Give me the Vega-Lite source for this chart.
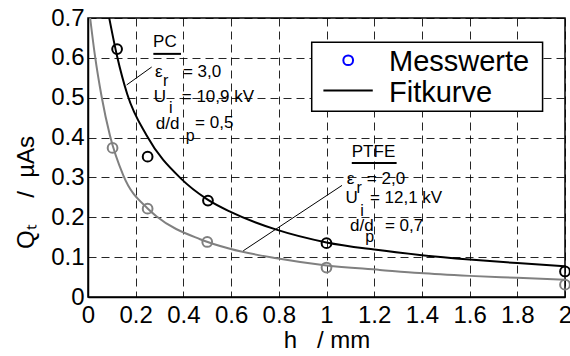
{
  "$schema": "https://vega.github.io/schema/vega-lite/v6.json",
  "width": 477,
  "height": 279,
  "autosize": {"type": "none"},
  "padding": {"left": 88, "top": 18, "right": 5, "bottom": 59},
  "background": "white",
  "config": {
    "font": "Liberation Sans",
    "view": {"stroke": "#000", "strokeWidth": 1.5},
    "axis": {
      "domain": true, "domainColor": "#000", "domainWidth": 1.5,
      "ticks": false, "grid": true, "gridColor": "#000", "gridDash": [8, 5], "gridWidth": 1, "gridOpacity": 0.85,
      "labelOverlap": false, "labelBound": false,
      "labelFont": "Liberation Sans", "labelFontSize": 24, "labelColor": "#000",
      "titleFont": "Liberation Sans", "titleFontSize": 24, "titleFontWeight": "normal", "titleColor": "#000"
    }
  },
  "datasets": {
    "fits": [
      {"series": "PC", "h": 0.089, "q": 0.7},
      {"series": "PC", "h": 0.122, "q": 0.604},
      {"series": "PC", "h": 0.165, "q": 0.508},
      {"series": "PC", "h": 0.246, "q": 0.405},
      {"series": "PC", "h": 0.39, "q": 0.297},
      {"series": "PC", "h": 0.5, "q": 0.245},
      {"series": "PC", "h": 0.6, "q": 0.213},
      {"series": "PC", "h": 0.79, "q": 0.169},
      {"series": "PC", "h": 1.0, "q": 0.137},
      {"series": "PC", "h": 1.2, "q": 0.119},
      {"series": "PC", "h": 1.4, "q": 0.105},
      {"series": "PC", "h": 1.6, "q": 0.094},
      {"series": "PC", "h": 1.8, "q": 0.085},
      {"series": "PC", "h": 2.0, "q": 0.077},
      {"series": "PTFE", "h": 0.009, "q": 0.7},
      {"series": "PTFE", "h": 0.029, "q": 0.606},
      {"series": "PTFE", "h": 0.057, "q": 0.503},
      {"series": "PTFE", "h": 0.092, "q": 0.405},
      {"series": "PTFE", "h": 0.148, "q": 0.305},
      {"series": "PTFE", "h": 0.25, "q": 0.222},
      {"series": "PTFE", "h": 0.288, "q": 0.202},
      {"series": "PTFE", "h": 0.47, "q": 0.145},
      {"series": "PTFE", "h": 0.595, "q": 0.121},
      {"series": "PTFE", "h": 0.791, "q": 0.097},
      {"series": "PTFE", "h": 1.0, "q": 0.079},
      {"series": "PTFE", "h": 1.224, "q": 0.068},
      {"series": "PTFE", "h": 1.39, "q": 0.06},
      {"series": "PTFE", "h": 1.6, "q": 0.053},
      {"series": "PTFE", "h": 1.8, "q": 0.048},
      {"series": "PTFE", "h": 2.0, "q": 0.043}
    ],
    "measured": [
      {"series": "PC", "h": 0.122, "q": 0.622},
      {"series": "PC", "h": 0.25, "q": 0.352},
      {"series": "PC", "h": 0.503, "q": 0.242},
      {"series": "PC", "h": 1.0, "q": 0.135},
      {"series": "PC", "h": 2.0, "q": 0.064},
      {"series": "PTFE", "h": 0.103, "q": 0.374},
      {"series": "PTFE", "h": 0.25, "q": 0.2215},
      {"series": "PTFE", "h": 0.5, "q": 0.138},
      {"series": "PTFE", "h": 1.0, "q": 0.074},
      {"series": "PTFE", "h": 2.0, "q": 0.031}
    ],
    "legendbox": [{"h": 0.938, "h2": 1.906, "q": 0.466, "q2": 0.639}],
    "legendsym": [{"h": 1.091, "q": 0.594}],
    "legendline": [{"h": 0.987, "h2": 1.194, "q": 0.518}],
    "legendtext": [
      {"h": 1.262, "q": 0.590, "text": "Messwerte"},
      {"h": 1.262, "q": 0.511, "text": "Fitkurve"}
    ],
    "annot": [
      {"h": 0.273, "q": 0.640, "text": "PC"},
      {"h": 0.281, "q": 0.565, "text": "ε"},
      {"h": 0.398, "q": 0.565, "text": "= 3,0"},
      {"h": 0.276, "q": 0.503, "text": "U"},
      {"h": 0.393, "q": 0.503, "text": "= 10,9 kV"},
      {"h": 0.284, "q": 0.434, "text": "d/d"},
      {"h": 0.449, "q": 0.436, "text": "= 0,5"},
      {"h": 1.106, "q": 0.365, "text": "PTFE"},
      {"h": 1.085, "q": 0.296, "text": "ε"},
      {"h": 1.169, "q": 0.296, "text": "= 2,0"},
      {"h": 1.08, "q": 0.248, "text": "U"},
      {"h": 1.182, "q": 0.248, "text": "= 12,1 kV"},
      {"h": 1.099, "q": 0.177, "text": "d/d"},
      {"h": 1.245, "q": 0.177, "text": "= 0,7"}
    ],
    "subs": [
      {"h": 0.314, "q": 0.541, "text": "r"},
      {"h": 0.34, "q": 0.474, "text": "i"},
      {"h": 0.41, "q": 0.405, "text": "p"},
      {"h": 1.126, "q": 0.273, "text": "r"},
      {"h": 1.142, "q": 0.216, "text": "i"},
      {"h": 1.162, "q": 0.150, "text": "p"}
    ],
    "underlines": [
      {"h": 0.274, "h2": 0.390, "q": 0.610, "q2": 0.610},
      {"h": 1.106, "h2": 1.294, "q": 0.336, "q2": 0.336}
    ],
    "leaders": [
      {"h": 0.162, "h2": 0.267, "q": 0.532, "q2": 0.577},
      {"h": 0.651, "h2": 1.065, "q": 0.116, "q2": 0.280}
    ]
  },
  "encoding": {
    "x": {"field": "h", "type": "quantitative",
      "scale": {"domain": [0, 2], "nice": false},
      "axis": {"values": [0, 0.2, 0.4, 0.6, 0.8, 1, 1.2, 1.4, 1.6, 1.8, 2], "tickCount": 14, "format": "~g", "labelPadding": 6, "title": "h\u00a0\u00a0\u00a0/\u00a0mm", "titlePadding": 1, "labelFlush": false, "labelOverlap": false}},
    "y": {"field": "q", "type": "quantitative",
      "scale": {"domain": [0, 0.7], "nice": false, "zero": true},
      "axis": {"values": [0, 0.1, 0.2, 0.3, 0.4, 0.5, 0.6, 0.7], "tickCount": 10, "format": "~g", "labelPadding": 4, "title": "Q\u209c\u00a0\u00a0\u00a0\u00a0/\u00a0\u00a0µAs", "titlePadding": 12, "titleY": 174, "labelFlush": false, "labelOverlap": false}}
  },
  "layer": [
    {
      "data": {"name": "fits"},
      "mark": {"type": "line", "interpolate": "monotone", "strokeWidth": 2},
      "encoding": {
        "color": {"field": "series", "type": "nominal",
          "scale": {"domain": ["PC", "PTFE"], "range": ["#000000", "#808080"]}, "legend": null}
      }
    },
    {
      "data": {"name": "measured"},
      "mark": {"type": "point", "shape": "circle", "filled": false, "size": 95, "strokeWidth": 2, "opacity": 1},
      "encoding": {
        "color": {"field": "series", "type": "nominal", "legend": null}
      }
    },
    {
      "data": {"name": "leaders"},
      "mark": {"type": "rule", "color": "#000", "strokeWidth": 1},
      "encoding": {"x2": {"field": "h2"}, "y2": {"field": "q2"}}
    },
    {
      "data": {"name": "underlines"},
      "mark": {"type": "rule", "color": "#000", "strokeWidth": 2},
      "encoding": {"x2": {"field": "h2"}, "y2": {"field": "q2"}}
    },
    {
      "data": {"name": "annot"},
      "mark": {"type": "text", "align": "left", "baseline": "middle", "fontSize": 17, "font": "Liberation Sans", "color": "#000"},
      "encoding": {"text": {"field": "text"}}
    },
    {
      "data": {"name": "subs"},
      "mark": {"type": "text", "align": "left", "baseline": "middle", "fontSize": 16, "font": "Liberation Sans", "color": "#000"},
      "encoding": {"text": {"field": "text"}}
    },
    {
      "data": {"name": "legendbox"},
      "mark": {"type": "rect", "fill": "#fff", "stroke": "#000", "strokeWidth": 1.5},
      "encoding": {"x2": {"field": "h2"}, "y2": {"field": "q2"}}
    },
    {
      "data": {"name": "legendsym"},
      "mark": {"type": "point", "shape": "circle", "filled": false, "size": 95, "strokeWidth": 2, "color": "#0000ff", "opacity": 1},
      "encoding": {}
    },
    {
      "data": {"name": "legendline"},
      "mark": {"type": "rule", "color": "#000", "strokeWidth": 2},
      "encoding": {"x2": {"field": "h2"}}
    },
    {
      "data": {"name": "legendtext"},
      "mark": {"type": "text", "align": "left", "baseline": "middle", "fontSize": 29, "font": "Liberation Sans", "color": "#000"},
      "encoding": {"text": {"field": "text"}}
    }
  ]
}
